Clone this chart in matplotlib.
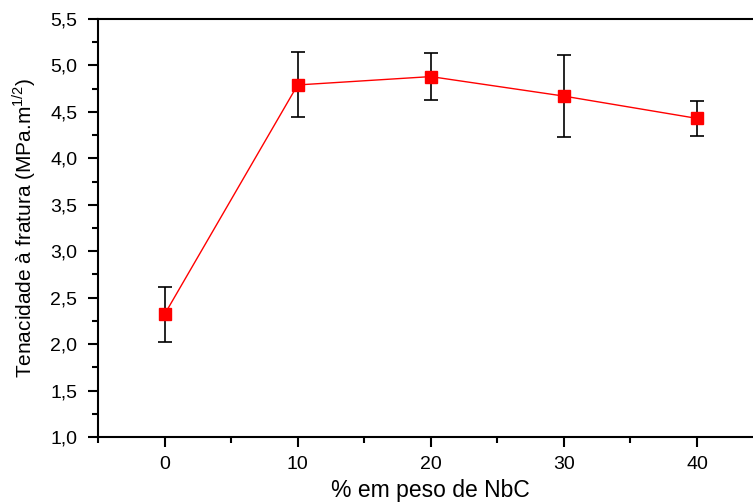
import numpy as np
import matplotlib.pyplot as plt
from matplotlib.ticker import MultipleLocator, FuncFormatter

plt.rcParams['font.family'] = ['Liberation Sans', 'DejaVu Sans']
plt.rcParams['mathtext.fontset'] = 'custom'
plt.rcParams['mathtext.rm'] = 'Liberation Sans'

nbc = [0, 10, 20, 30, 40]
tenacidade = [2.32, 4.79, 4.88, 4.67, 4.43]
erro = [0.30, 0.35, 0.25, 0.44, 0.19]

fig = plt.figure(figsize=(7.53, 5.04), dpi=100)
# axes run past the right edge like the original export
ax = fig.add_axes([98 / 753, 1 - 437 / 504, (763.5 - 98) / 753, (437 - 19) / 504])

ax.errorbar(nbc, tenacidade, yerr=erro, color='red', lw=1, marker='s', ms=8,
            mec='red', mfc='red', ecolor='black', elinewidth=1.2, capsize=5,
            capthick=1.2, zorder=3)

ax.set_xlim(-5, 45)
ax.set_ylim(1.0, 5.5)
ax.xaxis.set_major_locator(MultipleLocator(10))
ax.xaxis.set_minor_locator(MultipleLocator(5))
ax.yaxis.set_major_locator(MultipleLocator(0.5))
ax.yaxis.set_minor_locator(MultipleLocator(0.25))
ax.yaxis.set_major_formatter(FuncFormatter(lambda v, p: f"{v:.1f}".replace('.', ',')))

ax.tick_params(which='major', direction='out', length=7, width=1.5, labelsize=14)
ax.tick_params(which='minor', direction='out', length=4, width=1.5)
ax.tick_params(axis='x', which='major', pad=7)
ax.tick_params(axis='y', which='major', pad=8)
for s in ['left', 'bottom', 'top']:
    ax.spines[s].set_linewidth(1.5)
ax.spines['right'].set_visible(False)

ax.set_xlabel('% em peso de NbC', fontsize=16.5, labelpad=4)
ax.set_ylabel('Tenacidade à fratura (MPa.m$^{\\mathregular{1/2}}$)', fontsize=15, labelpad=9)

fig.savefig('out.png', dpi=100)
